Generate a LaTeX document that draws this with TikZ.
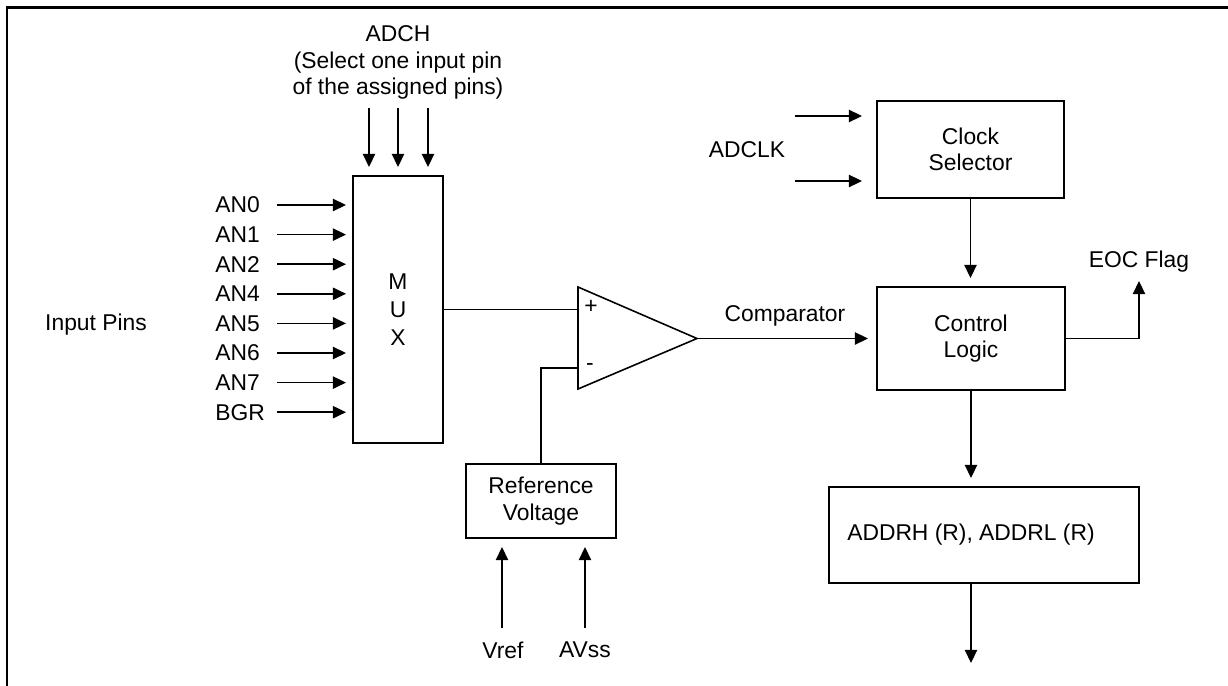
\documentclass[tikz,border=0pt]{standalone}
\usepackage{fontspec}
\setmainfont{Liberation Sans}
\usetikzlibrary{arrows.meta}
\tikzset{
  blk/.style={draw, line width=0.9pt, inner sep=0pt, outer sep=0pt, align=center},
  lbl/.style={inner sep=0pt, align=center},
  wire/.style={line width=0.9pt},
  arr/.style={wire, -{Triangle[length=7.5pt,width=7pt]}, shorten >=0.18cm}
}
\begin{document}
\begin{tikzpicture}[x=0.02cm, y=-0.02cm, font=\fontsize{13}{15}\selectfont]
  \useasboundingbox (0,0) rectangle (1228,686);
  \draw[line width=1.3pt] (7,686) -- (7,7.5) -- (1228,7.5);

  % multiplexer and its inputs
  \node[blk, minimum width=1.8cm, minimum height=5.34cm, font=\fontsize{13}{16}\selectfont] (mux) at (398,309.5) {M\\U\\X};
  \node[lbl] (pins) at (96,325) {Input Pins};
  \foreach \pin [count=\i] in {AN0,AN1,AN2,AN4,AN5,AN6,AN7,BGR} {
    \node[lbl, anchor=west] (an\i) at (215,{205+(\i-1)*29.6}) {\pin};
    \coordinate (s\i) at (277,{205+(\i-1)*29.6});
    \draw[arr, shorten >=0.14cm] (s\i) -- (s\i -| mux.west);
  }
  \node[lbl] (adch) at (398,62.5) {ADCH\\(Select one input pin\\of the assigned pins)};
  \foreach \x [count=\i] in {369,398,428} {
    \coordinate (c\i) at (\x,108);
    \draw[arr] (c\i) -- (c\i |- mux.north);
  }

  % comparator
  \coordinate (plus) at (578,309.5);
  \coordinate (minus) at (578,368);
  \coordinate (cmpout) at (697,338.5);
  \draw[wire] (578,287) -- (cmpout) -- (578,389) -- cycle;
  \node[lbl] (p) at (591,307) {+};
  \node[lbl] (m) at (590,367) {-};
  \draw[wire] (mux.east) -- (plus);

  % reference voltage
  \node[blk, minimum width=3cm, minimum height=1.48cm] (ref) at (541,501) {Reference\\Voltage};
  \draw[wire] (ref.north) |- (minus);
  \node[lbl] (vref) at (503,650) {Vref};
  \node[lbl] (avss) at (585,650) {AVss};
  \coordinate (v1) at (502,628);
  \coordinate (v2) at (585,628);
  \draw[arr] (v1) -- (v1 |- ref.south);
  \draw[arr] (v2) -- (v2 |- ref.south);

  % clock selector
  \node[blk, minimum width=3.74cm, minimum height=1.94cm] (clk) at (970.5,149.5) {Clock\\Selector};
  \node[lbl] (adclk) at (747,150) {ADCLK};
  \foreach \y [count=\i] in {116,181} {
    \coordinate (k\i) at (795,\y);
    \draw[arr, shorten >=0.3cm] (k\i) -- (k\i -| clk.west);
  }

  % control logic
  \node[blk, minimum width=3.76cm, minimum height=2.06cm] (ctl) at (971,338.5) {Control\\Logic};
  \draw[arr] (clk.south) -- (clk.south |- ctl.north);
  \draw[arr] (cmpout) -- (cmpout -| ctl.west);
  \node[lbl] (cmp) at (785,316) {Comparator};
  \node[lbl] (eoc) at (1139,262) {EOC Flag};
  \coordinate (eocend) at (1139,281);
  \draw[arr, shorten >=0pt] (ctl.east) -| (eocend);

  % result registers
  \node[blk, minimum width=6.2cm, minimum height=1.92cm] (addr) at (984,535) {};
  \node[lbl] (addrtxt) at (971,535) {ADDRH (R), ADDRL (R)};
  \draw[arr] (ctl.south) -- (ctl.south |- addr.north);
  \coordinate (dout) at (971,663);
  \draw[arr, shorten >=0pt] (dout |- addr.south) -- (dout);
\end{tikzpicture}
\end{document}
